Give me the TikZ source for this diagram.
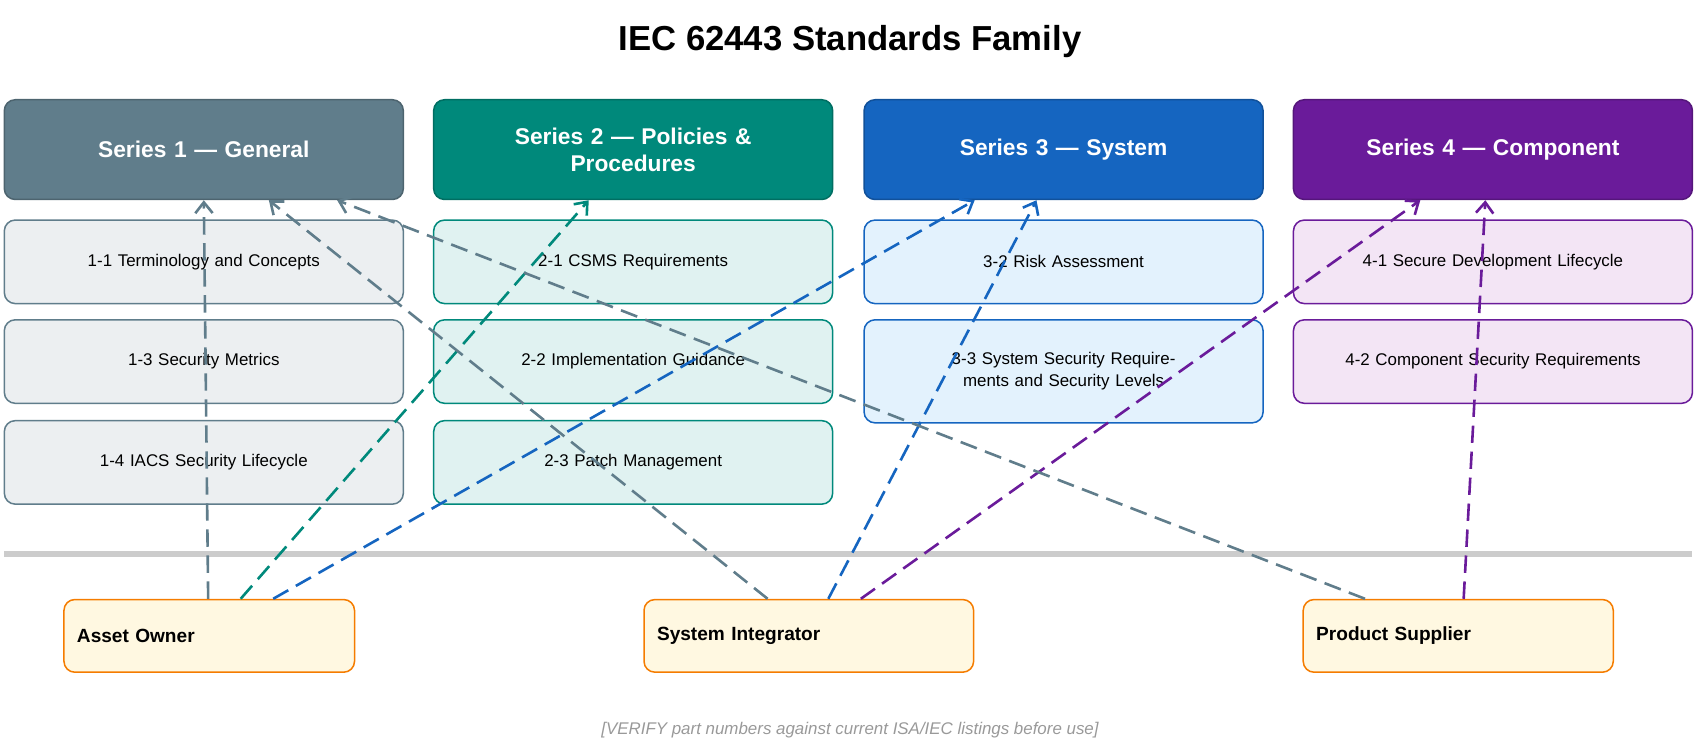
\documentclass[tikz,border=0pt]{standalone}
\usepackage{fontspec}
\setmainfont{Liberation Sans}
\usetikzlibrary{arrows.meta,calc}
\definecolor{sA}{HTML}{607D8B}\definecolor{sAl}{HTML}{ECEFF1}
\definecolor{sB}{HTML}{00897B}\definecolor{sBl}{HTML}{E0F2F1}
\definecolor{sC}{HTML}{1565C0}\definecolor{sCl}{HTML}{E3F2FD}
\definecolor{sD}{HTML}{6A1B9A}\definecolor{sDl}{HTML}{F3E5F5}
\definecolor{actor}{HTML}{F57C00}\definecolor{actorl}{HTML}{FFF8E1}
\tikzset{
  head/.style={rounded corners=5pt,line width=0.7pt,text=white,font=\fontsize{10.5}{12.5}\selectfont\bfseries,align=center,inner sep=0pt},
  part/.style={rounded corners=5pt,line width=0.7pt,font=\fontsize{7.8}{10}\selectfont,align=center,inner sep=0pt},
  role/.style={rounded corners=5pt,line width=0.7pt,draw=actor,fill=actorl,font=\fontsize{8.8}{10}\selectfont\bfseries,inner sep=0pt},
  link/.style={line width=1.2pt,dash pattern=on 8pt off 4pt,-{Straight Barb[length=5pt,width=8pt]}},
}
% box from two corners (px), text centred
\newcommand{\bx}[7]{\node[#6,minimum width={(#4-#2)*0.5pt},minimum height={(#5-#3)*0.5pt},text width={(#4-#2)*0.5pt-12pt}] (#1) at ({(#2+#4)/2},{(#3+#5)/2}) {#7};}
\begin{document}
\begin{tikzpicture}[x=0.5pt,y=-0.5pt]
  \useasboundingbox (0,0) rectangle (1568,694);
  \node[font=\fontsize{16}{18}\selectfont\bfseries] (title) at (784,38) {IEC 62443 Standards Family};
  % series headers
  \bx{s1}{4}{92}{372}{184}{head,fill=sA,draw=sA!80!black}{Series 1 --- General}
  \bx{s2}{400}{92}{768}{184}{head,fill=sB,draw=sB!80!black}{Series 2 --- Policies \&\\Procedures}
  \bx{s3}{797}{92}{1165}{184}{head,fill=sC,draw=sC!80!black}{Series 3 --- System}
  \bx{s4}{1193}{92}{1561}{184}{head,fill=sD,draw=sD!80!black}{Series 4 --- Component}
  % parts
  \bx{p11}{4}{203}{372}{280}{part,fill=sAl,draw=sA}{1-1 Terminology and Concepts}
  \bx{p13}{4}{295}{372}{372}{part,fill=sAl,draw=sA}{1-3 Security Metrics}
  \bx{p14}{4}{388}{372}{465}{part,fill=sAl,draw=sA}{1-4 IACS Security Lifecycle}
  \bx{p21}{400}{203}{768}{280}{part,fill=sBl,draw=sB}{2-1 CSMS Requirements}
  \bx{p22}{400}{295}{768}{372}{part,fill=sBl,draw=sB}{2-2 Implementation Guidance}
  \bx{p23}{400}{388}{768}{465}{part,fill=sBl,draw=sB}{2-3 Patch Management}
  \bx{p32}{797}{203}{1165}{280}{part,fill=sCl,draw=sC}{3-2 Risk Assessment}
  \bx{p33}{797}{295}{1165}{390}{part,fill=sCl,draw=sC}{3-3 System Security Requirements and Security Levels}
  \bx{p41}{1193}{203}{1561}{280}{part,fill=sDl,draw=sD}{4-1 Secure Development Lifecycle}
  \bx{p42}{1193}{295}{1561}{372}{part,fill=sDl,draw=sD}{4-2 Component Security Requirements}
  % divider
  \coordinate (dl) at (4,511);
  \coordinate (dr) at (1561,511);
  \draw[line width=3pt,color=black!20] (dl) -- (dr);
  % roles
  \bx{ao}{59}{553}{327}{620}{role}{\centering Asset Owner}
  \bx{si}{594}{553}{898}{620}{role}{\centering System Integrator}
  \bx{ps}{1202}{553}{1488}{620}{role}{\centering Product Supplier}
  % links
  \draw[link,sA] ([xshift=-0.5pt]ao.north) -- ([xshift=-0pt]s1.south);
  \draw[link,sB] ([xshift=14.5pt]ao.north) -- ([xshift=-20.5pt]s2.south);
  \draw[link,sC] ([xshift=29.5pt]ao.north) -- ([xshift=-41pt]s3.south);
  \draw[link,sA] ([xshift=-19pt]si.north) -- ([xshift=30pt]s1.south);
  \draw[link,sC] ([xshift=9pt]si.north) -- ([xshift=-12.5pt]s3.south);
  \draw[link,sD] ([xshift=24pt]si.north) -- ([xshift=-33.5pt]s4.south);
  \draw[link,sA] ([xshift=-43pt]ps.north) -- ([xshift=61.5pt]s1.south);
  \draw[link,sD] ([xshift=2.5pt]ps.north) -- ([xshift=-3.5pt]s4.south);
  \node[font=\fontsize{7.8}{9}\selectfont\itshape,text=black!40] (note) at (784,673) {[VERIFY part numbers against current ISA/IEC listings before use]};
\end{tikzpicture}
\end{document}
